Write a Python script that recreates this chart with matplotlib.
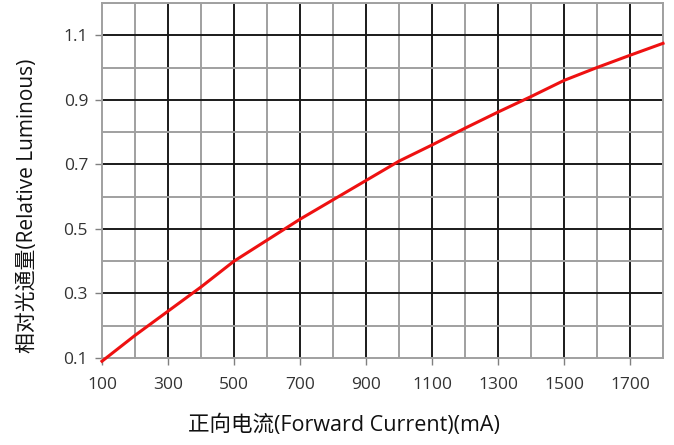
import matplotlib
matplotlib.use("Agg")
import matplotlib.pyplot as plt
import numpy as np

plt.rcParams['font.family'] = ['Open Sans', 'Noto Sans CJK SC', 'DejaVu Sans']

# forward current (mA) vs relative luminous flux
current = [100, 200, 300, 400, 500, 600, 700, 800, 900, 1000,
           1100, 1200, 1300, 1400, 1500, 1600, 1700, 1800]
luminous = [0.09, 0.17, 0.245, 0.32, 0.40, 0.465, 0.53, 0.59, 0.65, 0.71,
            0.76, 0.812, 0.862, 0.91, 0.96, 1.0, 1.038, 1.075]

x_labels = [100, 300, 500, 700, 900, 1100, 1300, 1500, 1700]
y_labels = [0.1, 0.3, 0.5, 0.7, 0.9, 1.1]

fig = plt.figure(figsize=(6.74, 4.45), dpi=100)
ax = fig.add_axes([0.1513, 0.1955, 0.8324, 0.7978])

# grid: dark at labelled positions, grey in between
for xv in range(200, 1801, 100):
    major = xv in x_labels
    ax.axvline(xv, color='#1a1a1a' if major else '#a0a0a0', lw=1.4, zorder=1)
for yv in np.arange(0.2, 1.21, 0.1):
    major = any(abs(yv - m) < 1e-6 for m in y_labels)
    ax.axhline(yv, color='#1a1a1a' if major else '#a0a0a0', lw=1.4, zorder=1)

ax.plot(current, luminous, color='#ee1111', lw=2.2, zorder=3, clip_on=False)

ax.set_xlim(100, 1800)
ax.set_ylim(0.1, 1.2)
ax.set_xticks(x_labels)
ax.set_yticks(y_labels)
ax.set_yticklabels([f'{v:.1f}' for v in y_labels])
ax.tick_params(axis='both', colors='#808080', labelcolor='#333333',
               labelsize=12.5, length=5, width=1.0, direction='out')
ax.tick_params(axis='x', pad=9)
ax.tick_params(axis='y', pad=5)

for sp in ax.spines.values():
    sp.set_color('#a0a0a0')
    sp.set_linewidth(1.4)

ax.set_xlabel('正向电流(Forward Current)(mA)', fontsize=15.5, color='#111111')
ax.set_ylabel('相对光通量(Relative Luminous)', fontsize=15, color='#111111')
ax.xaxis.set_label_coords(0.431, -0.16)
ax.yaxis.set_label_coords(-0.114, 0.428)

fig.savefig('out.png', dpi=100)
